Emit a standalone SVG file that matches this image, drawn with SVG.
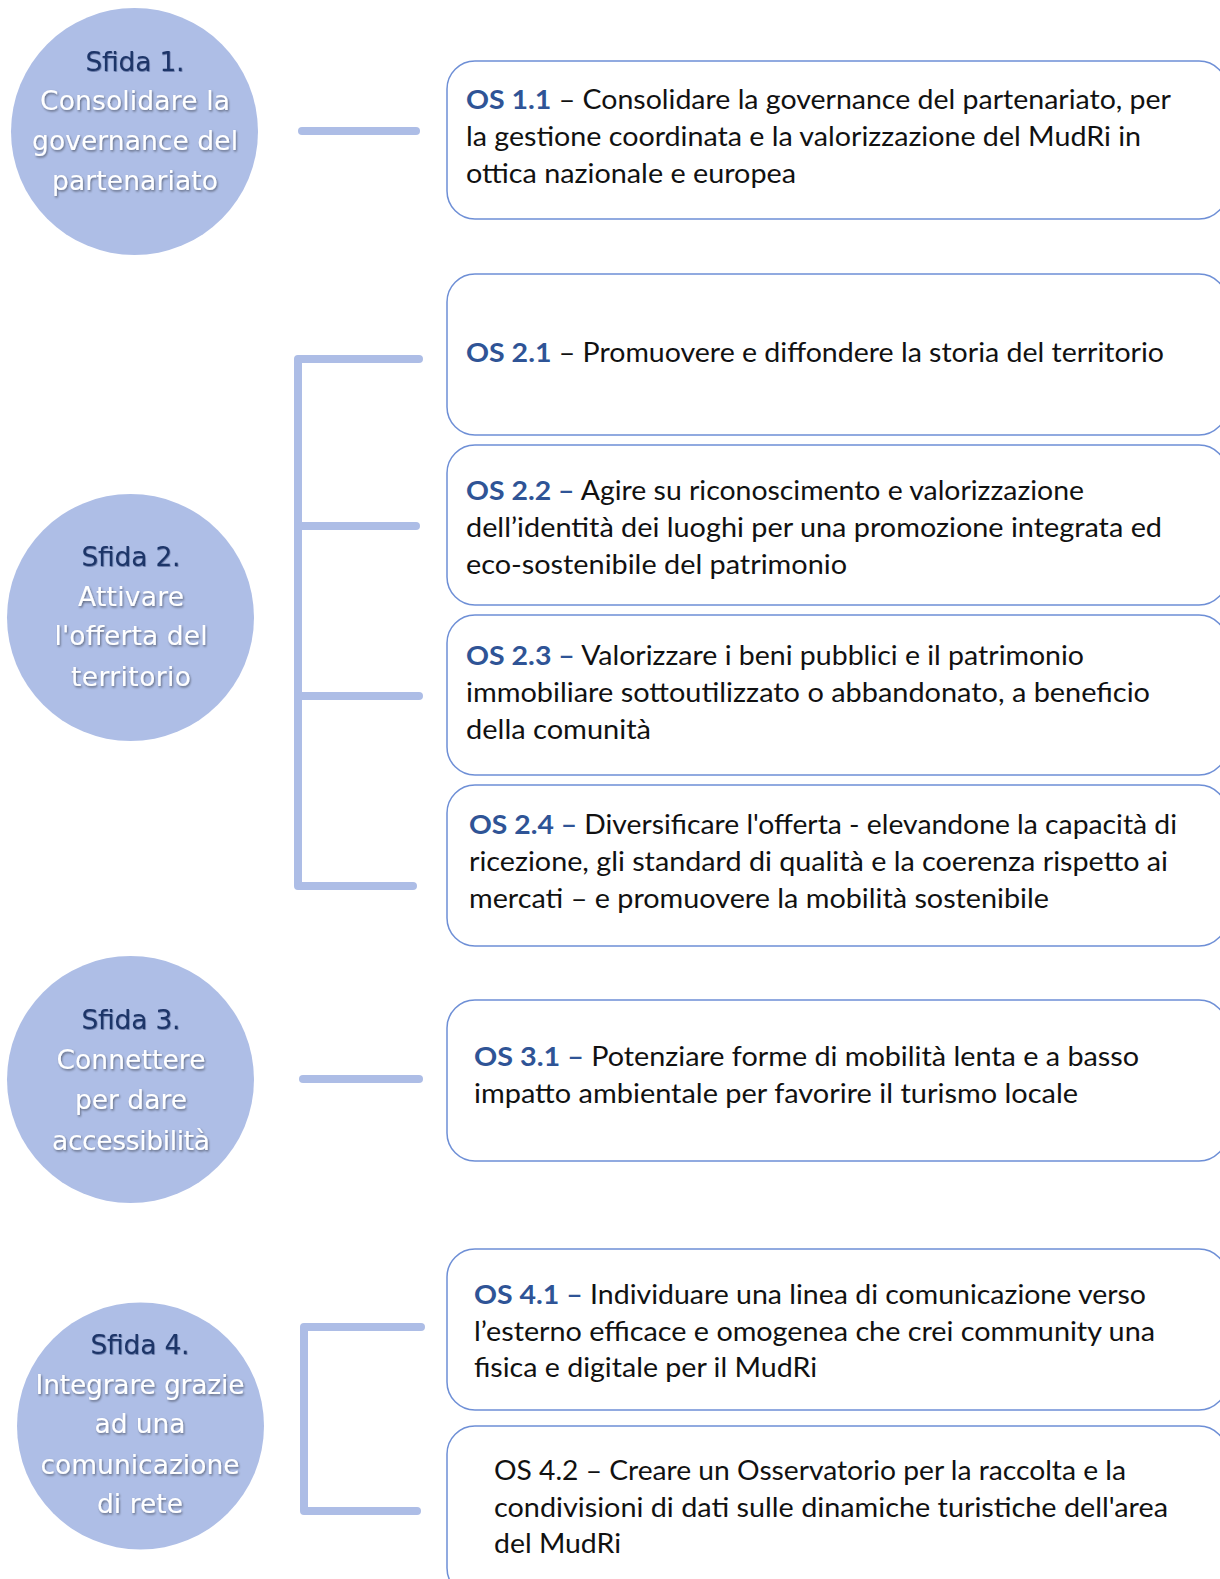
<svg xmlns="http://www.w3.org/2000/svg" width="1220" height="1579" viewBox="0 0 1220 1579">
<style>
.circ{fill:#AEBEE6}
.ct{font-family:"DejaVu Sans","Liberation Sans",sans-serif;font-size:26.5px;text-anchor:middle}
.hd{fill:#1F3568;filter:url(#sh2)}
.wt{fill:#FFFFFF;filter:url(#sh)}
.box{fill:#FFFFFF;stroke:#6E8FD6;stroke-width:1.5}
.bt{font-family:Lato,"Open Sans",sans-serif;font-size:26px;fill:#111111}
.os{fill:#2F5496;font-weight:bold}
.con{fill:none;stroke:#ADBDE6;stroke-width:8;stroke-linecap:round;stroke-linejoin:round}
</style>
<defs>
<filter id="sh" x="-10%" y="-30%" width="120%" height="160%">
<feDropShadow dx="1" dy="1.5" stdDeviation="1" flood-color="#000000" flood-opacity="0.45"/>
</filter>
<filter id="sh2" x="-10%" y="-30%" width="120%" height="160%">
<feDropShadow dx="0.6" dy="0.8" stdDeviation="0.6" flood-color="#1F3568" flood-opacity="0.6"/>
</filter>
</defs>
<rect width="1220" height="1579" fill="#FFFFFF"/>

<g id="connectors">
<path class="con" d="M302 131 H416"/>
<path class="con" d="M419 359 H298 V886 H413 M301 526 H416 M301 696 H419"/>
<path class="con" d="M303 1079 H419"/>
<path class="con" d="M421 1327 H304 V1511 H417"/>
</g>

<g id="sfida1">
<circle class="circ" cx="134.5" cy="131.5" r="123.5"/>
<text class="ct hd" x="135" y="71" textLength="99">Sfida 1.</text>
<text class="ct wt" x="135" y="110" textLength="190">Consolidare la</text>
<text class="ct wt" x="135" y="150" textLength="206">governance del</text>
<text class="ct wt" x="135" y="190" textLength="166">partenariato</text>
</g>

<g id="sfida2">
<circle class="circ" cx="130.5" cy="617.5" r="123.5"/>
<text class="ct hd" x="131" y="566" textLength="99">Sfida 2.</text>
<text class="ct wt" x="131" y="606" textLength="106">Attivare</text>
<text class="ct wt" x="131" y="645" textLength="153">l'offerta del</text>
<text class="ct wt" x="131" y="686" textLength="120">territorio</text>
</g>

<g id="sfida3">
<circle class="circ" cx="130.5" cy="1079.5" r="123.5"/>
<text class="ct hd" x="131" y="1029" textLength="99">Sfida 3.</text>
<text class="ct wt" x="131" y="1069" textLength="149">Connettere</text>
<text class="ct wt" x="131" y="1109" textLength="112">per dare</text>
<text class="ct wt" x="131" y="1150" textLength="158">accessibilità</text>
</g>

<g id="sfida4">
<circle class="circ" cx="140.5" cy="1426" r="123.5"/>
<text class="ct hd" x="140" y="1354" textLength="99">Sfida 4.</text>
<text class="ct wt" x="140" y="1394" textLength="209">Integrare grazie</text>
<text class="ct wt" x="140" y="1433" textLength="91">ad una</text>
<text class="ct wt" x="140" y="1474" textLength="199">comunicazione</text>
<text class="ct wt" x="140" y="1513" textLength="86">di rete</text>
</g>

<g id="os11">
<rect class="box" x="447" y="61" width="780" height="158" rx="28"/>
<text class="bt" x="466" y="109" textLength="705" lengthAdjust="spacingAndGlyphs"><tspan class="os">OS 1.1</tspan> – Consolidare la governance del partenariato, per</text>
<text class="bt" x="466" y="146" textLength="675" lengthAdjust="spacingAndGlyphs">la gestione coordinata e la valorizzazione del MudRi in</text>
<text class="bt" x="466" y="183" textLength="330" lengthAdjust="spacingAndGlyphs">ottica nazionale e europea</text>
</g>

<g id="os21">
<rect class="box" x="447" y="274" width="780" height="161" rx="28"/>
<text class="bt" x="466" y="362" textLength="698" lengthAdjust="spacingAndGlyphs"><tspan class="os">OS 2.1</tspan> – Promuovere e diffondere la storia del territorio</text>
</g>

<g id="os22">
<rect class="box" x="447" y="445" width="780" height="160" rx="28"/>
<text class="bt" x="466" y="500" textLength="618" lengthAdjust="spacingAndGlyphs"><tspan class="os">OS 2.2 –</tspan> Agire su riconoscimento e valorizzazione</text>
<text class="bt" x="466" y="537" textLength="696" lengthAdjust="spacingAndGlyphs">dell’identità dei luoghi per una promozione integrata ed</text>
<text class="bt" x="466" y="574" textLength="381" lengthAdjust="spacingAndGlyphs">eco-sostenibile del patrimonio</text>
</g>

<g id="os23">
<rect class="box" x="447" y="615" width="780" height="160" rx="28"/>
<text class="bt" x="466" y="665" textLength="618" lengthAdjust="spacingAndGlyphs"><tspan class="os">OS 2.3 –</tspan> Valorizzare i beni pubblici e il patrimonio</text>
<text class="bt" x="466" y="702" textLength="684" lengthAdjust="spacingAndGlyphs">immobiliare sottoutilizzato o abbandonato, a beneficio</text>
<text class="bt" x="466" y="739" textLength="185" lengthAdjust="spacingAndGlyphs">della comunità</text>
</g>

<g id="os24">
<rect class="box" x="447" y="785" width="780" height="161" rx="28"/>
<text class="bt" x="469" y="834" textLength="708" lengthAdjust="spacingAndGlyphs"><tspan class="os">OS 2.4 –</tspan> Diversificare l'offerta - elevandone la capacità di</text>
<text class="bt" x="469" y="871" textLength="699" lengthAdjust="spacingAndGlyphs">ricezione, gli standard di qualità e la coerenza rispetto ai</text>
<text class="bt" x="469" y="908" textLength="580" lengthAdjust="spacingAndGlyphs">mercati – e promuovere la mobilità sostenibile</text>
</g>

<g id="os31">
<rect class="box" x="447" y="1000" width="780" height="161" rx="28"/>
<text class="bt" x="474" y="1066" textLength="665" lengthAdjust="spacingAndGlyphs"><tspan class="os">OS 3.1 –</tspan>  Potenziare forme di mobilità lenta e a basso</text>
<text class="bt" x="474" y="1103" textLength="604" lengthAdjust="spacingAndGlyphs">impatto ambientale per favorire il turismo locale</text>
</g>

<g id="os41">
<rect class="box" x="447" y="1249" width="780" height="161" rx="28"/>
<text class="bt" x="474" y="1304" textLength="672" lengthAdjust="spacingAndGlyphs"><tspan class="os">OS 4.1 –</tspan> Individuare una linea di comunicazione verso</text>
<text class="bt" x="474" y="1341" textLength="681" lengthAdjust="spacingAndGlyphs">l’esterno efficace e omogenea che crei community una</text>
<text class="bt" x="474" y="1377" textLength="343" lengthAdjust="spacingAndGlyphs">fisica e digitale per il MudRi</text>
</g>

<g id="os42">
<rect class="box" x="447" y="1426" width="780" height="170" rx="28"/>
<text class="bt" x="494" y="1480" textLength="632" lengthAdjust="spacingAndGlyphs">OS 4.2 – Creare un Osservatorio per la raccolta e la</text>
<text class="bt" x="494" y="1517" textLength="674" lengthAdjust="spacingAndGlyphs">condivisioni di dati sulle dinamiche turistiche dell'area</text>
<text class="bt" x="494" y="1553" textLength="127" lengthAdjust="spacingAndGlyphs">del MudRi</text>
</g>
</svg>
